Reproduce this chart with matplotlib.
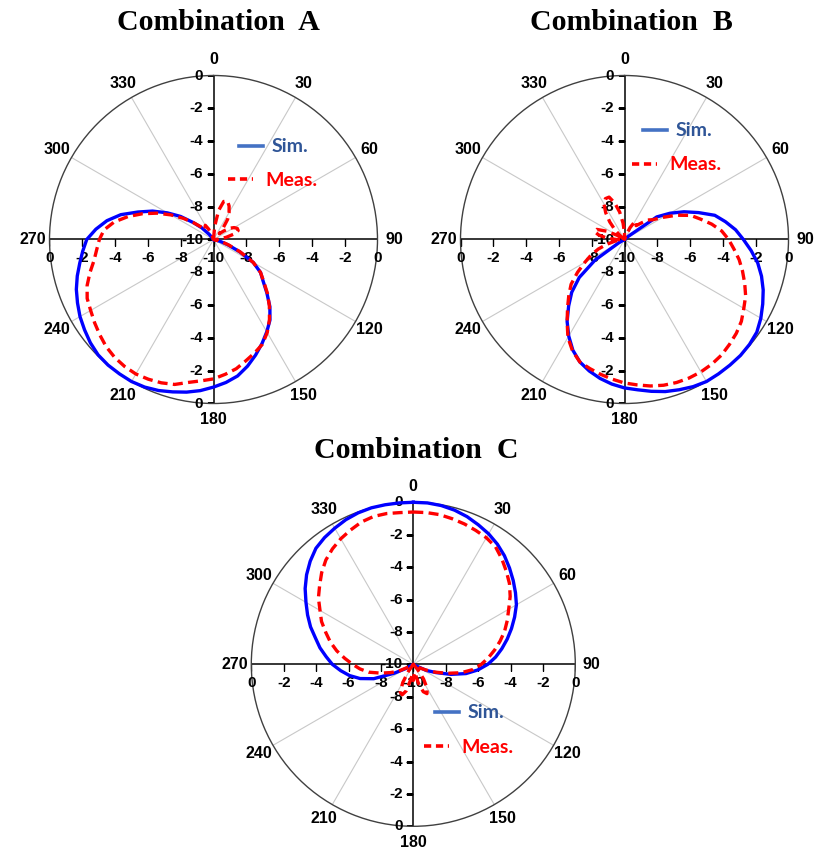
import numpy as np
import matplotlib.pyplot as plt
from matplotlib.lines import Line2D
from matplotlib.markers import TICKLEFT, TICKDOWN

W, H = 815, 855

# angoli (gradi), passo 5
angles = np.arange(0, 360, 5)

# Combination A
simA = [-10, -10, -10, -10, -10, -10, -10, -10, -10, -10, -10, -10, -10, -10, -10, -10, -10, -10, -10, -10,
        -10, -9.6, -9.1, -8.25, -7.2, -6.5, -6.05, -5.4, -4.65, -4.0, -3.5, -3.0, -2.5, -2.0, -1.55, -1.25, -1.0, -0.75, -0.55, -0.38,
        -0.2, -0.07, 0, 0, 0, -0.05, -0.2, -0.4, -0.6, -0.85, -1.1, -1.4, -1.72, -2.0, -2.27, -2.8, -3.4, -4.15, -5.1, -5.9,
        -6.75, -7.55, -8.4, -9.0, -9.6, -10, -10, -10, -10, -10, -10, -10]
measA = [-10, -9.2, -8.2, -7.6, -7.5, -7.75, -8.1, -8.5, -9.1, -9.5, -9.2, -8.8, -8.55, -8.4, -8.4, -8.7, -9.2, -9.6, -9.8, -10,
         -10, -9.5, -9.0, -8.2, -7.2, -6.5, -6.0, -5.35, -4.7, -4.05, -3.45, -2.95, -2.65, -2.35, -2.0, -1.75, -1.5, -1.35, -1.15, -0.85,
         -0.7, -0.6, -0.53, -0.55, -0.62, -0.75, -0.95, -1.15, -1.35, -1.5, -1.8, -2.2, -2.6, -2.85, -3.04, -3.3, -3.85, -4.6, -5.4, -6.2,
         -7.0, -7.75, -8.4, -8.9, -9.2, -9.1, -9.0, -9.3, -9.8, -10, -10, -10]

# Combination B
simB = [-10, -10, -10, -10, -10, -10, -10, -10, -10, -10, -9.7, -7.6, -6.8, -6.0, -5.2, -4.3, -3.75, -3.2, -2.75, -2.25,
        -1.75, -1.35, -1.0, -0.7, -0.4, -0.15, -0.05, 0, 0, 0, 0, -0.1, -0.25, -0.4, -0.6, -0.8, -0.95, -1.15, -1.4, -1.7,
        -2.05, -2.55, -3.2, -3.9, -4.7, -5.45, -6.4, -7.8, -9.6, -10, -10, -10, -10, -10, -10, -10, -10, -10, -10, -10,
        -10, -10, -10, -10, -10, -10, -10, -10, -10, -10, -10, -10]
measB = [-9.6, -10, -10, -10, -9.7, -9.2, -8.75, -8.7, -8.9, -8.6, -8.15, -7.9, -7.3, -6.5, -5.7, -5.2, -4.6, -4.05, -3.65, -3.3,
         -2.9, -2.55, -2.2, -1.85, -1.6, -1.3, -1.1, -0.95, -0.8, -0.72, -0.68, -0.68, -0.72, -0.8, -0.93, -1.1, -1.25, -1.45, -1.65, -1.85,
         -2.05, -2.5, -3.1, -3.9, -4.6, -5.2, -5.75, -6.5, -7.2, -7.75, -8.3, -8.9, -9.4, -9.8, -9.5, -8.9, -8.4, -8.1, -8.2, -8.8,
         -9.5, -10, -9.7, -9.2, -8.6, -8.0, -7.5, -7.25, -7.25, -7.7, -8.3, -9.0]

# Combination C
simC = [0, 0, -0.05, -0.15, -0.3, -0.5, -0.7, -0.95, -1.25, -1.6, -1.95, -2.3, -2.65, -3.1, -3.55, -4.0, -4.45, -4.9, -5.4, -6.0,
        -6.7, -7.6, -8.5, -9.1, -9.8, -10, -10, -10, -10, -10, -10, -10, -10, -10, -10, -10, -10, -10, -10, -10,
        -10, -10, -10, -10, -10, -10, -10, -10, -9.5, -8.7, -7.4, -6.6, -6.0, -5.5, -5.0, -4.6, -4.15, -3.75, -3.25, -2.8,
        -2.35, -1.85, -1.4, -1.0, -0.65, -0.45, -0.3, -0.15, -0.05, 0, 0, 0]
measC = [-0.6, -0.6, -0.62, -0.7, -0.78, -0.88, -0.98, -1.15, -1.5, -1.88, -2.25, -2.7, -3.2, -3.6, -4.0, -4.45, -4.9, -5.35, -5.8, -6.3,
         -7.0, -7.85, -8.6, -9.2, -9.6, -10, -10, -10, -9.6, -8.9, -8.3, -8.0, -8.2, -8.8, -9.5, -9.4, -9.0, -9.4, -9.0, -8.3,
         -8.0, -8.1, -8.7, -9.5, -10, -10, -10, -10, -9.7, -9.0, -8.5, -7.9, -7.2, -6.7, -6.25, -5.75, -5.2, -4.7, -4.25, -3.75,
         -3.35, -2.85, -2.45, -2.0, -1.6, -1.3, -1.05, -0.85, -0.65, -0.55, -0.55, -0.6]

ringTicks = [0, -2, -4, -6, -8, -10]
angleTicks = list(range(0, 360, 30))

TICK_FONT = dict(family="Liberation Sans", weight="bold", size=11)


def figBox(cx, cy, R):
    # centro e raggio in pixel -> rettangolo in frazioni di figura
    return [(cx - R) / W, 1 - (cy + R) / H, 2 * R / W, 2 * R / H]


def closeCurve(values):
    th = np.deg2rad(np.append(angles, 360))
    r = np.append(values, values[0])
    return th, r


def drawPanel(ax, sim, meas):
    ax.set_theta_zero_location("N")
    ax.set_theta_direction(-1)
    ax.set_ylim(-10, 0)
    ax.set_xticks([])
    ax.set_yticks([])
    ax.grid(False)
    ax.spines["polar"].set_color("#404040")
    ax.spines["polar"].set_linewidth(1.0)

    # raggi ogni 30 gradi e etichette angolari
    for a in angleTicks:
        th = np.deg2rad(a)
        if a % 90 == 0:
            ax.plot([th, th], [-10, 0], color="black", lw=1.1, zorder=2)
        else:
            ax.plot([th, th], [-10, 0], color="#C8C8C8", lw=0.8, zorder=1)
        ax.text(th, 1.0, str(a), ha="center", va="center", fontsize=11.5,
                fontweight="bold", family="Liberation Sans")

    # asse verticale (sopra e sotto il centro)
    for a in (0, 180):
        for v in ringTicks:
            if a == 180 and v == -10:
                continue
            ax.plot(np.deg2rad(a), v, marker=TICKLEFT, ms=5, mew=1, color="black", zorder=2)
            ax.annotate(str(v), (np.deg2rad(a), v), xytext=(-7.5, 0),
                        textcoords="offset points", ha="right", va="center", **TICK_FONT)
    # asse orizzontale
    for a in (90, 270):
        for v in ringTicks:
            if a == 270 and v == -10:
                continue
            ax.plot(np.deg2rad(a), v, marker=TICKDOWN, ms=5, mew=1, color="black", zorder=2)
            ax.annotate(str(v), (np.deg2rad(a), v), xytext=(0, -13.5),
                        textcoords="offset points", ha="center", va="center", **TICK_FONT)

    th, r = closeCurve(sim)
    ax.plot(th, r, color="#0000FF", lw=2.4, clip_on=False, zorder=3)
    th, r = closeCurve(meas)
    ax.plot(th, r, color="#FF0000", lw=2.4, ls=(0, (3, 1.6)), clip_on=False, zorder=4)


def addLegend(fig, ax, simXY, measXY):
    prop = dict(family="Lato", weight="bold", size=14)
    simHandle = Line2D([], [], color="#4472C4", lw=2.6)
    measHandle = Line2D([], [], color="#FF0000", lw=2.6, ls=(0, (2, 1.3)))
    legS = ax.legend([simHandle], ["Sim."], loc="center left",
                     bbox_to_anchor=(simXY[0] / W, 1 - simXY[1] / H), bbox_transform=fig.transFigure,
                     frameon=False, borderpad=0, borderaxespad=0, handlelength=1.25,
                     handletextpad=0.45, prop=prop, labelcolor="#2F5597")
    ax.add_artist(legS)
    ax.legend([measHandle], ["Meas."], loc="center left",
              bbox_to_anchor=(measXY[0] / W, 1 - measXY[1] / H), bbox_transform=fig.transFigure,
              frameon=False, borderpad=0, borderaxespad=0, handlelength=1.3,
              handletextpad=0.6, prop=prop, labelcolor="#FF0000")


fig = plt.figure(figsize=(W / 100, H / 100), dpi=100)

axA = fig.add_axes(figBox(213.5, 239.5, 164), projection="polar")
axB = fig.add_axes(figBox(624.5, 239.5, 164), projection="polar")
axC = fig.add_axes(figBox(413.3, 664.3, 162), projection="polar")

drawPanel(axA, simA, measA)
drawPanel(axB, simB, measB)
drawPanel(axC, simC, measC)

addLegend(fig, axA, (239, 147), (228, 180))
addLegend(fig, axB, (643, 131), (632, 165))
addLegend(fig, axC, (435, 713), (424, 747))

titleFont = dict(family="Liberation Serif", weight="bold", size=21.5, ha="center", va="center")
fig.text(218.5 / W, 1 - 22 / H, "Combination  A", **titleFont)
fig.text(631.5 / W, 1 - 22 / H, "Combination  B", **titleFont)
fig.text(416.5 / W, 1 - 450 / H, "Combination  C", **titleFont)

fig.savefig("out.png", dpi=100)
